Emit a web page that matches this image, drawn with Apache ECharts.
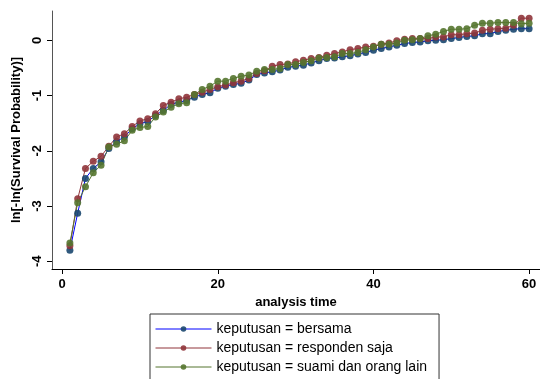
<!DOCTYPE html>
<html>
<head>
<meta charset="utf-8">
<script src="https://cdn.jsdelivr.net/npm/echarts@6/dist/echarts.min.js"></script>
<style>
  html, body { margin: 0; padding: 0; background: #fff; }
  #chart { width: 540px; height: 379px; }
</style>
</head>
<body>
<div id="chart"></div>
<script>
var times = [1, 2, 3, 4, 5, 6, 7, 8, 9, 10, 11, 12, 13, 14, 15, 16, 17, 18, 19, 20,
    21, 22, 23, 24, 25, 26, 27, 28, 29, 30, 31, 32, 33, 34, 35, 36, 37, 38, 39, 40,
    41, 42, 43, 44, 45, 46, 47, 48, 49, 50, 51, 52, 53, 54, 55, 56, 57, 58, 59, 60];

var bersama = [-3.80, -3.13, -2.50, -2.32, -2.20, -1.96, -1.83, -1.75, -1.60, -1.51,
    -1.47, -1.36, -1.27, -1.16, -1.12, -1.09, -1.03, -0.98, -0.95, -0.87,
    -0.83, -0.80, -0.78, -0.72, -0.62, -0.59, -0.57, -0.54, -0.49, -0.47,
    -0.45, -0.41, -0.37, -0.33, -0.32, -0.30, -0.28, -0.25, -0.22, -0.18,
    -0.15, -0.12, -0.09, -0.06, -0.04, -0.03, -0.01, 0.00, 0.01, 0.03,
    0.05, 0.07, 0.08, 0.12, 0.12, 0.16, 0.18, 0.20, 0.21, 0.21];

var respondenSaja = [-3.72, -2.87, -2.32, -2.19, -2.10, -1.92, -1.75, -1.69, -1.56, -1.46,
    -1.42, -1.33, -1.18, -1.12, -1.06, -1.03, -0.98, -0.94, -0.89, -0.84,
    -0.81, -0.77, -0.74, -0.69, -0.60, -0.55, -0.47, -0.44, -0.43, -0.39,
    -0.36, -0.33, -0.31, -0.27, -0.24, -0.21, -0.17, -0.15, -0.12, -0.11,
    -0.07, -0.05, -0.01, 0.02, 0.03, 0.03, 0.03, 0.06, 0.06, 0.10,
    0.10, 0.12, 0.13, 0.18, 0.20, 0.21, 0.22, 0.27, 0.40, 0.40];

var suamiDanOrangLain = [-3.67, -2.94, -2.65, -2.40, -2.26, -1.93, -1.88, -1.82, -1.63, -1.58,
    -1.56, -1.39, -1.30, -1.21, -1.15, -1.13, -0.98, -0.89, -0.83, -0.74,
    -0.74, -0.69, -0.65, -0.63, -0.56, -0.53, -0.53, -0.51, -0.44, -0.44,
    -0.40, -0.37, -0.32, -0.31, -0.30, -0.24, -0.24, -0.22, -0.17, -0.12,
    -0.07, -0.07, -0.05, 0.00, 0.01, 0.03, 0.08, 0.11, 0.16, 0.20,
    0.20, 0.21, 0.27, 0.31, 0.31, 0.32, 0.32, 0.32, 0.30, 0.31];

var seriesNames = ['keputusan = bersama', 'keputusan = responden saja', 'keputusan = suami dan orang lain'];
var xTicks = [0, 20, 40, 60];
var yTicks = [-4, -3, -2, -1, 0];

var font = 'Liberation Sans, Arial, sans-serif';

function pairs(vals) {
    return vals.map(function (v, i) { return [times[i], v]; });
}

var chart = echarts.init(document.getElementById('chart'));
chart.setOption({
    animation: false,
    backgroundColor: '#fff',
    textStyle: { fontFamily: font },
    grid: { left: 52, right: 0, top: 11, bottom: 110 },
    legend: {
        orient: 'vertical',
        left: 150,
        top: 314,
        height: 80,
        padding: [8, 12, 12, 5],
        itemGap: 5,
        itemWidth: 56,
        itemHeight: 7,
        borderColor: '#333',
        borderWidth: 1,
        borderRadius: 0,
        lineStyle: { width: 1 },
        textStyle: { fontSize: 14, color: '#000', fontFamily: font },
        data: seriesNames
    },
    xAxis: {
        type: 'value',
        min: -1.3,
        max: 61.4,
        name: 'analysis time',
        nameLocation: 'middle',
        nameGap: 23,
        nameTextStyle: { fontSize: 13, fontWeight: 'bold', color: '#000' },
        axisLine: { onZero: false, lineStyle: { color: '#000', width: 1 } },
        axisTick: { customValues: xTicks, length: 5, lineStyle: { color: '#000' } },
        axisLabel: { customValues: xTicks, margin: 9, fontSize: 13, fontWeight: 'bold', color: '#000' },
        splitLine: { show: false }
    },
    yAxis: {
        type: 'value',
        min: -4.14,
        max: 0.53,
        name: 'ln[-ln(Survival Probability)]',
        nameLocation: 'middle',
        nameGap: 23,
        nameTextStyle: { fontSize: 13, fontWeight: 'bold', color: '#000' },
        axisLine: { show: true, onZero: false, lineStyle: { color: '#555', width: 1 } },
        axisTick: { show: true, customValues: yTicks, length: 5, lineStyle: { color: '#000' } },
        axisLabel: { customValues: yTicks, rotate: 90, margin: 8, fontSize: 13, fontWeight: 'bold', color: '#000' },
        splitLine: { show: false }
    },
    series: [
        { name: seriesNames[0], data: pairs(bersama), lineColor: '#0000ff', markColor: '#1a476f' },
        { name: seriesNames[1], data: pairs(respondenSaja), lineColor: '#90353b', markColor: '#90353b' },
        { name: seriesNames[2], data: pairs(suamiDanOrangLain), lineColor: '#55752f', markColor: '#55752f' }
    ].map(function (s) {
        return {
            name: s.name,
            type: 'line',
            data: s.data,
            symbol: 'circle',
            symbolSize: 7,
            showAllSymbol: true,
            lineStyle: { color: s.lineColor, width: 1 },
            itemStyle: { color: s.markColor, opacity: 0.9 }
        };
    })
});
</script>
</body>
</html>
